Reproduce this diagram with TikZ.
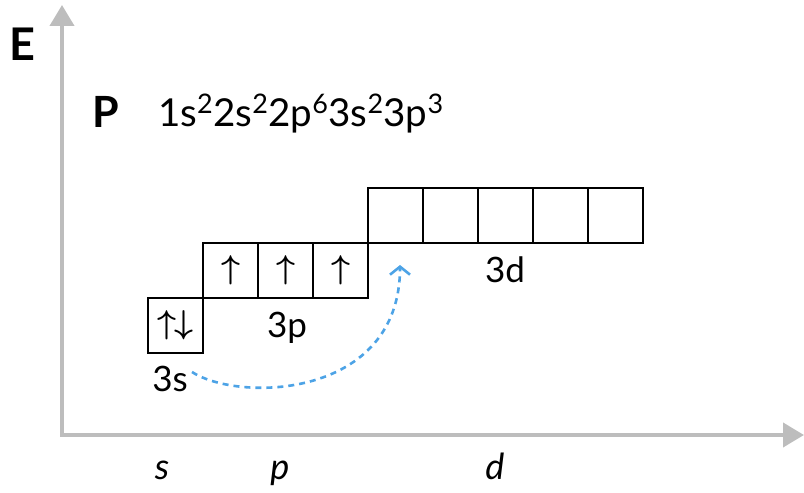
\RequirePackage{fix-cm}
\documentclass[tikz,border=0pt]{standalone}
\usepackage{fontspec}
\setmainfont{Lato}
\usetikzlibrary{arrows.meta,positioning}
\definecolor{AxisGray}{HTML}{BDBDBD}
\definecolor{JumpBlue}{HTML}{4DA3E6}
\tikzset{
  orb/.style={draw=black,line width=2.6pt,minimum size=55pt,inner sep=0pt,outer sep=0pt},
  lab/.style={font=\fontsize{35}{40}\selectfont,inner sep=0pt,anchor=base},
  big/.style={font=\fontsize{45}{50}\selectfont\bfseries,inner sep=0pt,anchor=base},
  spin/.style={font=\fontsize{33}{33}\selectfont\boldmath,inner sep=0pt},
  axis/.style={AxisGray,line width=4pt,{Triangle[length=21pt,width=24pt]}-{Triangle[length=21pt,width=24pt]}},
  jump/.style={JumpBlue,line width=2.6pt,dash pattern=on 6pt off 5pt,-{Straight Barb[length=8pt,width=20pt]}}
}
\begin{document}
\begin{tikzpicture}[x=1pt,y=1pt]
\useasboundingbox (0,0) rectangle (804,493);
% axes
\coordinate (ytop) at (62,488);
\coordinate (orig) at (62,58);
\coordinate (xend) at (804,58);
\draw[axis] (ytop) -- (orig) -- (xend);
\node[big] (elab) at (22,432) {E};
\node[lab,font=\fontsize{36}{40}\selectfont\itshape] (slab) at (162,13) {s};
\node[lab,font=\fontsize{36}{40}\selectfont\itshape] (plab) at (280,13) {p};
\node[lab,font=\fontsize{36}{40}\selectfont\itshape] (dlab) at (495,13) {d};
% element and configuration
\node[big,font=\fontsize{43}{50}\selectfont\bfseries] (elem) at (106,365) {P};
\node[lab,anchor=base west,font=\fontsize{38.5}{40}\selectfont] (conf) at (158,366)
  {1s\textsuperscript{2}2s\textsuperscript{2}2p\textsuperscript{6}3s\textsuperscript{2}3p\textsuperscript{3}};
% orbital boxes
\node[orb] (s1) at (175.5,167.5) {};
\node[orb,anchor=south west] (p1) at (s1.north east) {};
\node[orb,right=0pt of p1] (p2) {};
\node[orb,right=0pt of p2] (p3) {};
\node[orb,anchor=south west] (d1) at (p3.north east) {};
\node[orb,right=0pt of d1] (d2) {};
\node[orb,right=0pt of d2] (d3) {};
\node[orb,right=0pt of d3] (d4) {};
\node[orb,right=0pt of d4] (d5) {};
% electrons
\node[spin] (e1) at (s1) {$\uparrow\mkern-1mu\downarrow$};
\node[spin] (e2) at (p1) {$\uparrow$};
\node[spin] (e3) at (p2) {$\uparrow$};
\node[spin] (e4) at (p3) {$\uparrow$};
% sublevel labels
\node[lab] (s3lab) at (170,101) {3s};
\node[lab] (p3lab) at (287,155) {3p};
\node[lab] (d3lab) at (505,210) {3d};
% promotion
\coordinate (jmpa) at (192,121);
\coordinate (jmpb) at (400,228);
\draw[jump] (jmpa) .. controls (240,90) and (400,95) .. (jmpb);
\end{tikzpicture}
\end{document}
